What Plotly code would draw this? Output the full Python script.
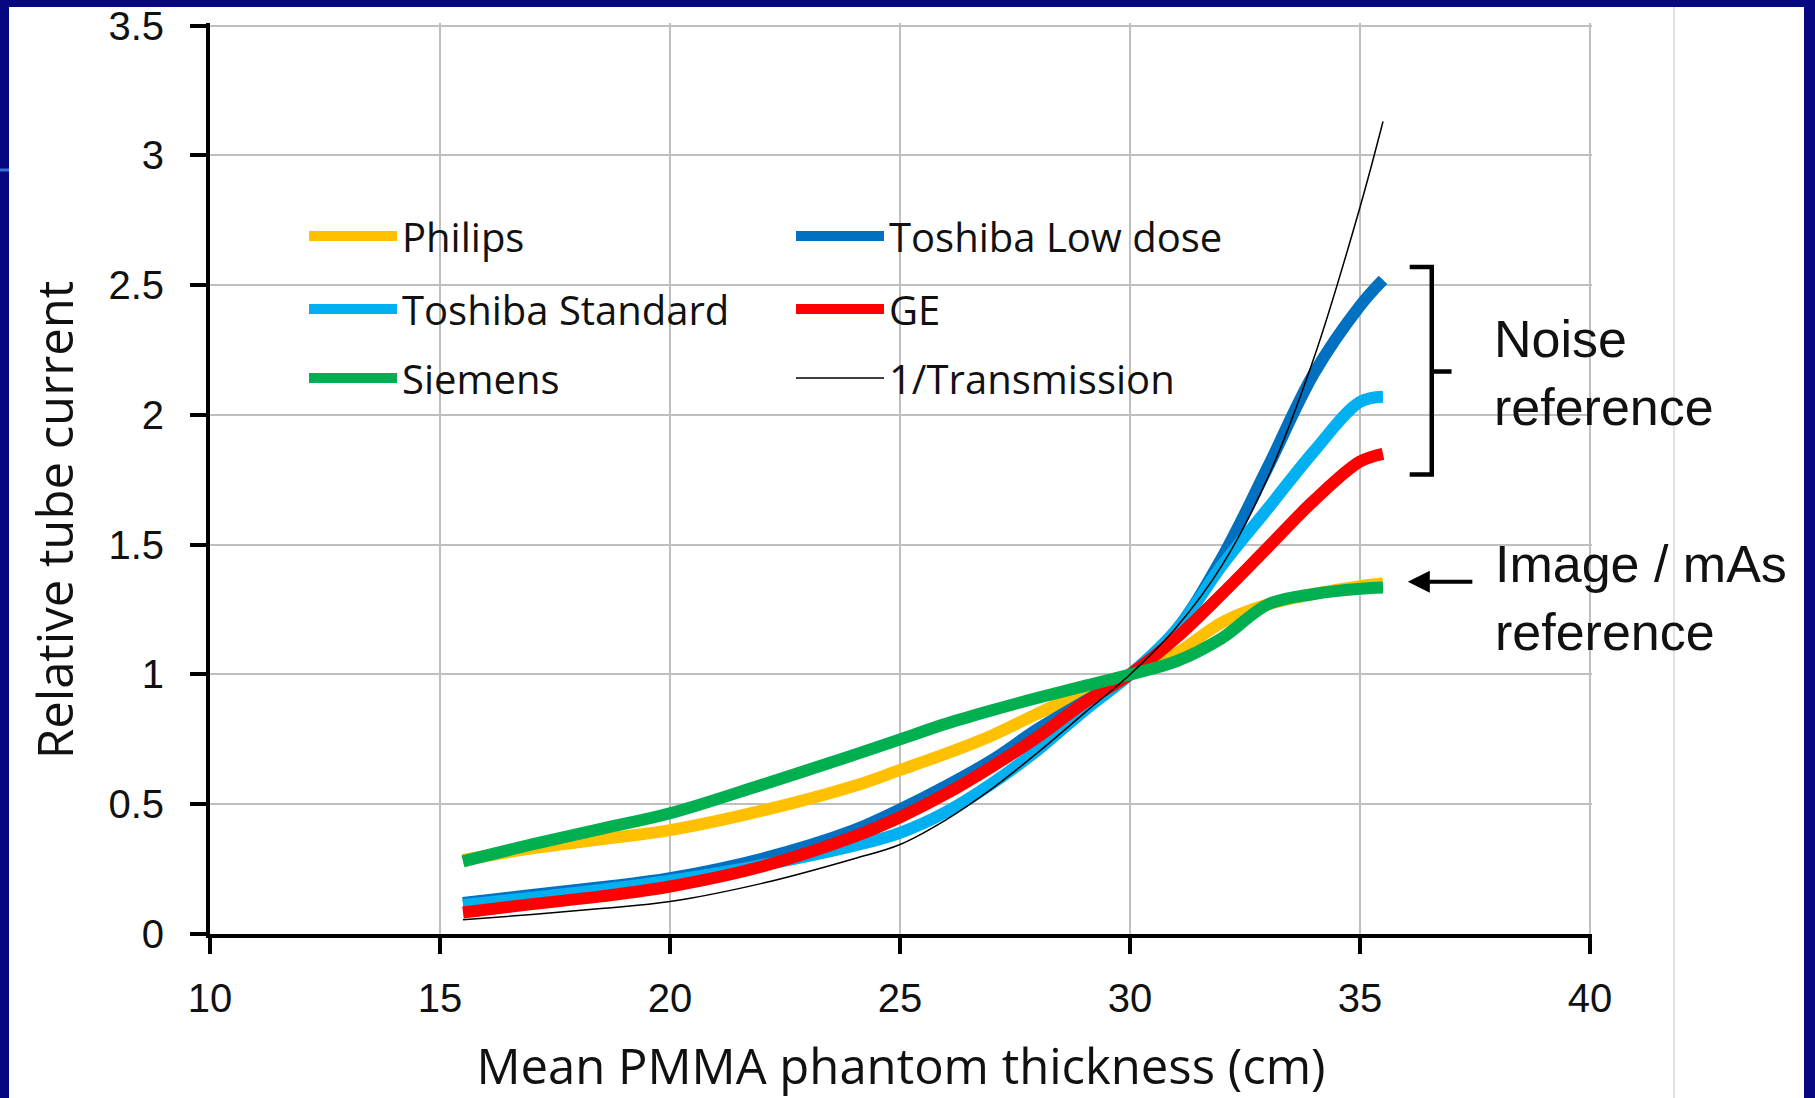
import plotly.graph_objects as go

# ---------------- data ----------------
thickness_cm = [15.5, 17, 18.5, 20, 22, 24, 25, 26, 27, 28, 29, 30, 31, 32, 33, 34, 35, 35.5]

philips = [0.285, 0.33, 0.365, 0.40, 0.475, 0.57, 0.632, 0.695, 0.765, 0.85, 0.93, 1.0,
           1.08, 1.20, 1.27, 1.31, 1.34, 1.35]
toshiba_low_dose = [0.12, 0.15, 0.18, 0.215, 0.29, 0.40, 0.48, 0.57, 0.67, 0.79, 0.895, 1.0,
                    1.17, 1.45, 1.80, 2.16, 2.42, 2.52]
toshiba_standard = [0.112, 0.14, 0.17, 0.205, 0.265, 0.34, 0.39, 0.47, 0.58, 0.71, 0.86, 1.0,
                    1.17, 1.42, 1.64, 1.86, 2.05, 2.07]
ge = [0.083, 0.115, 0.145, 0.183, 0.26, 0.375, 0.45, 0.54, 0.645, 0.76, 0.89, 1.0,
      1.14, 1.31, 1.49, 1.67, 1.82, 1.85]
siemens = [0.28, 0.345, 0.405, 0.465, 0.575, 0.69, 0.75, 0.81, 0.862, 0.91, 0.955, 1.0,
           1.05, 1.14, 1.27, 1.31, 1.33, 1.335]
inv_transmission = [0.055, 0.075, 0.098, 0.125, 0.195, 0.29, 0.345, 0.44, 0.56, 0.70, 0.85, 1.0,
                    1.18, 1.42, 1.76, 2.22, 2.8, 3.13]

series_names = ["Philips", "Toshiba Low dose", "Toshiba Standard", "GE", "Siemens", "1/Transmission"]
series_values = [philips, toshiba_low_dose, toshiba_standard, ge, siemens, inv_transmission]
series_colors = ["#FFC000", "#0070C0", "#00B0F0", "#FF0000", "#00B050", "#000000"]
series_widths = [12, 12, 12, 12, 12, 1.5]
series_legend = ["legend", "legend", "legend2", "legend2", "legend3", "legend3"]

x_ticks = [10, 15, 20, 25, 30, 35, 40]
y_ticks = [0, 0.5, 1, 1.5, 2, 2.5, 3, 3.5]

# ---------------- geometry ----------------
W, H = 1815, 1098
ML, MR, MT, MB = 210, 223, 23, 164
PW, PH = W - ML - MR, H - MT - MB
X_RANGE = [10, 40 + 2 / 46.02]
Y_RANGE = [0, 3.5 + 2.5 / 259.57]


def px(xpix):
    return (xpix - ML) / PW


def py(ypix):
    return 1 - (ypix - MT) / PH


NAVY = "#07077F"
TXT = "#111111"
FONT = "Open Sans"
TICKFONT = "Liberation Sans"

fig = go.Figure()
for name, vals, col, wd, lg in zip(series_names, series_values, series_colors, series_widths, series_legend):
    fig.add_trace(go.Scatter(
        x=thickness_cm, y=vals, name=name, mode="lines",
        line=dict(color=col, width=wd, shape="spline", smoothing=1.0),
        legend=lg, hoverinfo="skip",
    ))

leg_common = dict(orientation="h", bgcolor="rgba(0,0,0,0)", borderwidth=0,
                  font=dict(family=FONT, size=40, color=TXT),
                  itemwidth=88, entrywidth=384, xanchor="left", yanchor="middle",
                  x=px(304), traceorder="normal")

fig.update_layout(
    width=W, height=H, autosize=False,
    margin=dict(l=ML, r=MR, t=MT, b=MB, pad=0, autoexpand=False),
    paper_bgcolor=NAVY, plot_bgcolor="white",
    showlegend=True,
    legend=dict(**leg_common, y=py(236)),
    legend2=dict(**leg_common, y=py(309)),
    legend3=dict(**leg_common, y=py(378)),
    xaxis=dict(
        range=X_RANGE, tickvals=x_ticks, showgrid=True, gridcolor="#BFBFBF", gridwidth=2,
        zeroline=False, showline=True, linecolor="black", linewidth=4,
        ticks="outside", ticklen=16, tickwidth=4, tickcolor="black",
        ticklabelstandoff=10, ticklabeloverflow="allow", automargin=False,
        tickfont=dict(family=TICKFONT, size=40, color=TXT),
        title=dict(text="Mean PMMA phantom thickness (cm)", font=dict(family=FONT, size=49, color=TXT),
                   standoff=41),
    ),
    yaxis=dict(
        range=Y_RANGE, tickvals=y_ticks, showgrid=True, gridcolor="#BFBFBF", gridwidth=2,
        zeroline=False, showline=True, linecolor="black", linewidth=4,
        ticks="outside", ticklen=16, tickwidth=4, tickcolor="black",
        ticklabelstandoff=18, ticklabeloverflow="allow", automargin=False,
        tickfont=dict(family=TICKFONT, size=40, color=TXT),
    ),
    shapes=[
        # white slide/chart area
        dict(type="rect", xref="paper", yref="paper", x0=px(9), x1=px(1804), y0=py(1098), y1=py(7),
             fillcolor="white", line=dict(width=0), layer="below"),
        # chart area border line on the right
        dict(type="line", xref="paper", yref="paper", x0=px(1674), x1=px(1674), y0=py(1098), y1=py(7),
             line=dict(color="#D9D9D9", width=1.5), layer="below"),
        # light blue slide decoration at the left edge
        dict(type="line", xref="paper", yref="paper", x0=px(0), x1=px(9), y0=py(170), y1=py(170),
             line=dict(color="#3A6FE0", width=3), layer="below"),
        # legend background
        dict(type="rect", xref="paper", yref="paper", x0=px(267), x1=px(1262), y0=py(417), y1=py(200),
             fillcolor="white", line=dict(width=0), layer="between"),
        # bracket for noise reference
        dict(type="path", xref="x", yref="y",
             path="M 36.08 2.57 L 36.56 2.57 L 36.56 1.77 L 36.08 1.77",
             line=dict(color="black", width=4.5)),
        dict(type="line", xref="x", yref="y", x0=36.56, x1=36.99, y0=2.167, y1=2.167,
             line=dict(color="black", width=4.5)),
    ],
    annotations=[
        dict(text="Relative tube current", xref="paper", yref="paper", x=px(54), y=py(520),
             textangle=-90, showarrow=False, font=dict(family=FONT, size=49, color=TXT),
             xanchor="center", yanchor="middle"),
        dict(text="Noise<br>reference", xref="x", yref="y", x=37.86, y=2.16, xanchor="left",
             yanchor="middle", align="left", showarrow=False,
             font=dict(family="Liberation Sans", size=52, color=TXT)),
        dict(text="Image / mAs<br>reference", xref="x", yref="y", x=37.90, y=1.293, xanchor="left",
             yanchor="middle", align="left", showarrow=False,
             font=dict(family="Liberation Sans", size=52, color=TXT)),
        dict(text="", xref="x", yref="y", x=36.04, y=1.357, ax=66, ay=0, axref="pixel", ayref="pixel",
             showarrow=True, arrowhead=2, arrowsize=1.1, arrowwidth=4, arrowcolor="black", standoff=0),
    ],
)

fig.write_html("out.html")
